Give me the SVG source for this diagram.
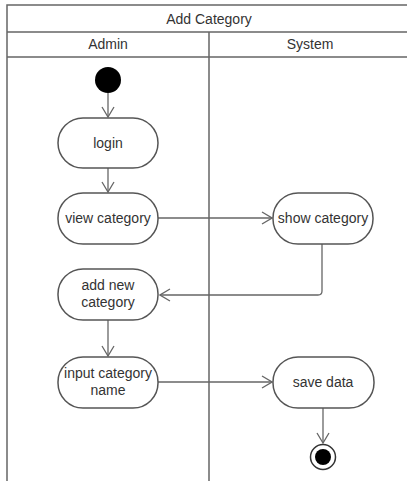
<svg xmlns="http://www.w3.org/2000/svg" width="407" height="481" viewBox="0 0 407 481">
<style>
text{font-family:"Liberation Sans",Arial,sans-serif;font-size:14px;fill:#333;text-anchor:middle}
.frame{fill:none;stroke:#666;stroke-width:1.5}
.act{fill:#fff;stroke:#555;stroke-width:1.5}
.conn{fill:none;stroke:#666;stroke-width:1.3}
</style>
<defs>
<marker id="open" viewBox="0 0 12 14" refX="11" refY="7" markerWidth="12" markerHeight="14" markerUnits="userSpaceOnUse" orient="auto">
<path d="M1,1 L11,7 L1,13" fill="none" stroke="#666" stroke-width="1.3"/>
</marker>
</defs>
<rect width="407" height="481" fill="#fff"/>
<g id="swimlanes">
<path class="frame" d="M7,481 V5 H412 M7,32 H412 M7,57 H412 M209,32 V481"/>
<text x="209" y="24">Add Category</text>
<text x="108" y="49">Admin</text>
<text x="310" y="49">System</text>
</g>
<g id="connectors">
<path class="conn" d="M108,93 V117" marker-end="url(#open)"/>
<path class="conn" d="M108,168 V192" marker-end="url(#open)"/>
<path class="conn" d="M158,218 H272" marker-end="url(#open)"/>
<path class="conn" d="M322,244 V291 Q322,295 318,295 H160" marker-end="url(#open)"/>
<path class="conn" d="M108,320 V356" marker-end="url(#open)"/>
<path class="conn" d="M158,382 H272" marker-end="url(#open)"/>
<path class="conn" d="M323,408 V443" marker-end="url(#open)"/>
</g>
<g id="start"><circle cx="108" cy="80" r="13" fill="#000"/></g>
<g id="login"><rect class="act" x="58" y="118" width="100" height="50" rx="25"/><text x="108" y="148">login</text></g>
<g id="view-category"><rect class="act" x="58" y="193" width="100" height="51" rx="25"/><text x="108" y="223">view category</text></g>
<g id="show-category"><rect class="act" x="273" y="193" width="100" height="51" rx="25"/><text x="323" y="223">show category</text></g>
<g id="add-new-category"><rect class="act" x="58" y="269" width="100" height="51" rx="25"/><text x="108" y="290">add new</text><text x="108" y="307">category</text></g>
<g id="input-category-name"><rect class="act" x="58" y="357" width="100" height="51" rx="25"/><text x="108" y="378">input category</text><text x="108" y="395">name</text></g>
<g id="save-data"><rect class="act" x="273" y="357" width="101" height="51" rx="25"/><text x="323" y="387">save data</text></g>
<g id="end"><circle cx="323" cy="457" r="12.5" fill="#fff" stroke="#333" stroke-width="1.5"/><circle cx="323" cy="457" r="8" fill="#000"/></g>
</svg>
